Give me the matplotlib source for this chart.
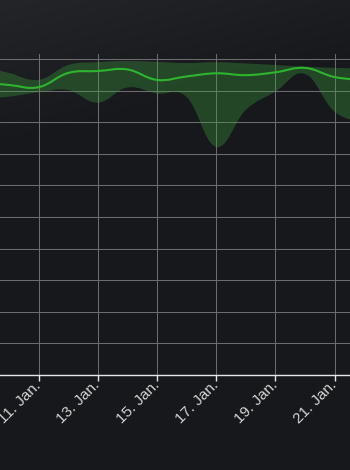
import numpy as np
import matplotlib
matplotlib.use("Agg")
import matplotlib.pyplot as plt
from matplotlib.path import Path
from matplotlib.patches import PathPatch

# ---- data (day of January) ----
days = [9, 10, 11, 12, 13, 14, 15, 16, 17, 18, 19, 20, 21, 22]
median = [92.7, 91.8, 91.1, 95.6, 96.2, 96.7, 93.4, 94.5, 95.5, 94.9, 95.8, 97.2, 94.3, 93.4]
upper = [97.8, 95.6, 93.4, 98.1, 99.0, 99.4, 99.1, 98.7, 99.0, 98.6, 98.1, 97.6, 97.2, 97.0]
lower = [87.3, 88.1, 89.5, 90.2, 86.2, 91.0, 89.1, 88.0, 72.2, 83.9, 89.7, 95.3, 83.3, 80.1]
tick_days = [11, 13, 15, 17, 19, 21]
tick_labels = ["11. Jan.", "13. Jan.", "15. Jan.", "17. Jan.", "19. Jan.", "21. Jan."]
y_ticks = [0, 10, 20, 30, 40, 50, 60, 70, 80, 90, 100]


def spline_vertices(xs, ys, smoothing=1.5):
    """Spline through points -> cubic Bezier vertices (central-difference tangents)."""
    xs = list(map(float, xs)); ys = list(map(float, ys))
    n = len(xs)
    denom = smoothing + 1
    rc = [None] * n
    lc = [None] * n
    for i in range(1, n - 1):
        px, py = xs[i], ys[i]
        lx, ly = xs[i - 1], ys[i - 1]
        nx, ny = xs[i + 1], ys[i + 1]
        lcx = (smoothing * px + lx) / denom
        lcy = (smoothing * py + ly) / denom
        rcx = (smoothing * px + nx) / denom
        rcy = (smoothing * py + ny) / denom
        corr = 0.0
        if rcx != lcx:
            corr = (rcy - lcy) * (rcx - px) / (rcx - lcx) + py - rcy
        lcy += corr; rcy += corr
        lc[i] = (lcx, lcy); rc[i] = (rcx, rcy)
    verts = [(xs[0], ys[0])]
    for i in range(1, n):
        a = rc[i - 1] if rc[i - 1] is not None else (xs[i - 1], ys[i - 1])
        b = lc[i] if lc[i] is not None else (xs[i], ys[i])
        verts += [a, b, (xs[i], ys[i])]
    return verts


W, H = 350, 470
fig = plt.figure(figsize=(W / 100, H / 100), dpi=100)

# background gradient
bg = fig.add_axes([0, 0, 1, 1], zorder=-10)
yy, xx = np.mgrid[0:H, 0:W]
t = np.clip(yy / 150.0 + xx / 600.0, 0, 1)[..., None]
c0 = np.array([36, 37, 41]) / 255.0
c1 = np.array([23, 24, 28]) / 255.0
bg.imshow(c0 * (1 - t) + c1 * t, aspect="auto", extent=[0, 1, 0, 1], origin="upper")
bg.set_axis_off()

top_px, bottom_px = 54, 375
ax = fig.add_axes([0, (H - bottom_px) / H, 1, (bottom_px - top_px) / H])
ax.set_facecolor("none")
ax.set_xlim(9.696, 21.52)
ax.set_ylim(0, 101.6)

# band
uv = spline_vertices(days, upper)
lv = spline_vertices(days, lower)[::-1]
verts = uv + lv + [uv[0]]
codes = [Path.MOVETO] + [Path.CURVE4] * (len(uv) - 1) + [Path.LINETO] + [Path.CURVE4] * (len(lv) - 1) + [Path.CLOSEPOLY]
band = PathPatch(Path(verts, codes), facecolor=(60/255, 170/255, 60/255, 0.32), edgecolor="none", zorder=2)
ax.add_patch(band)

# median line
mv = spline_vertices(days, median)
mcodes = [Path.MOVETO] + [Path.CURVE4] * (len(mv) - 1)
ax.add_patch(PathPatch(Path(mv, mcodes), facecolor="none", edgecolor="#2db52d", linewidth=1.5, zorder=3,
                       capstyle="round", joinstyle="round"))

# grid & axes
ax.set_yticks(y_ticks)
ax.set_xticks(tick_days)
ax.set_xticklabels(tick_labels, rotation=45, ha="right", va="center", rotation_mode="anchor",
                   fontsize=11, color="#d4d4d4", family=["Liberation Sans", "DejaVu Sans"])
ax.grid(True, color="#6c6c70", linewidth=0.75, zorder=0)
ax.set_axisbelow(True)
ax.tick_params(axis="y", left=False, labelleft=False)
ax.tick_params(axis="x", length=4, width=1, color="#e6e6e6", pad=2)
for s in ["left", "right", "top"]:
    ax.spines[s].set_visible(False)
ax.spines["bottom"].set_color("#e6e6e6")
ax.spines["bottom"].set_linewidth(1.0)
ax.spines["bottom"].set_zorder(5)

fig.savefig("out.png", dpi=100)
